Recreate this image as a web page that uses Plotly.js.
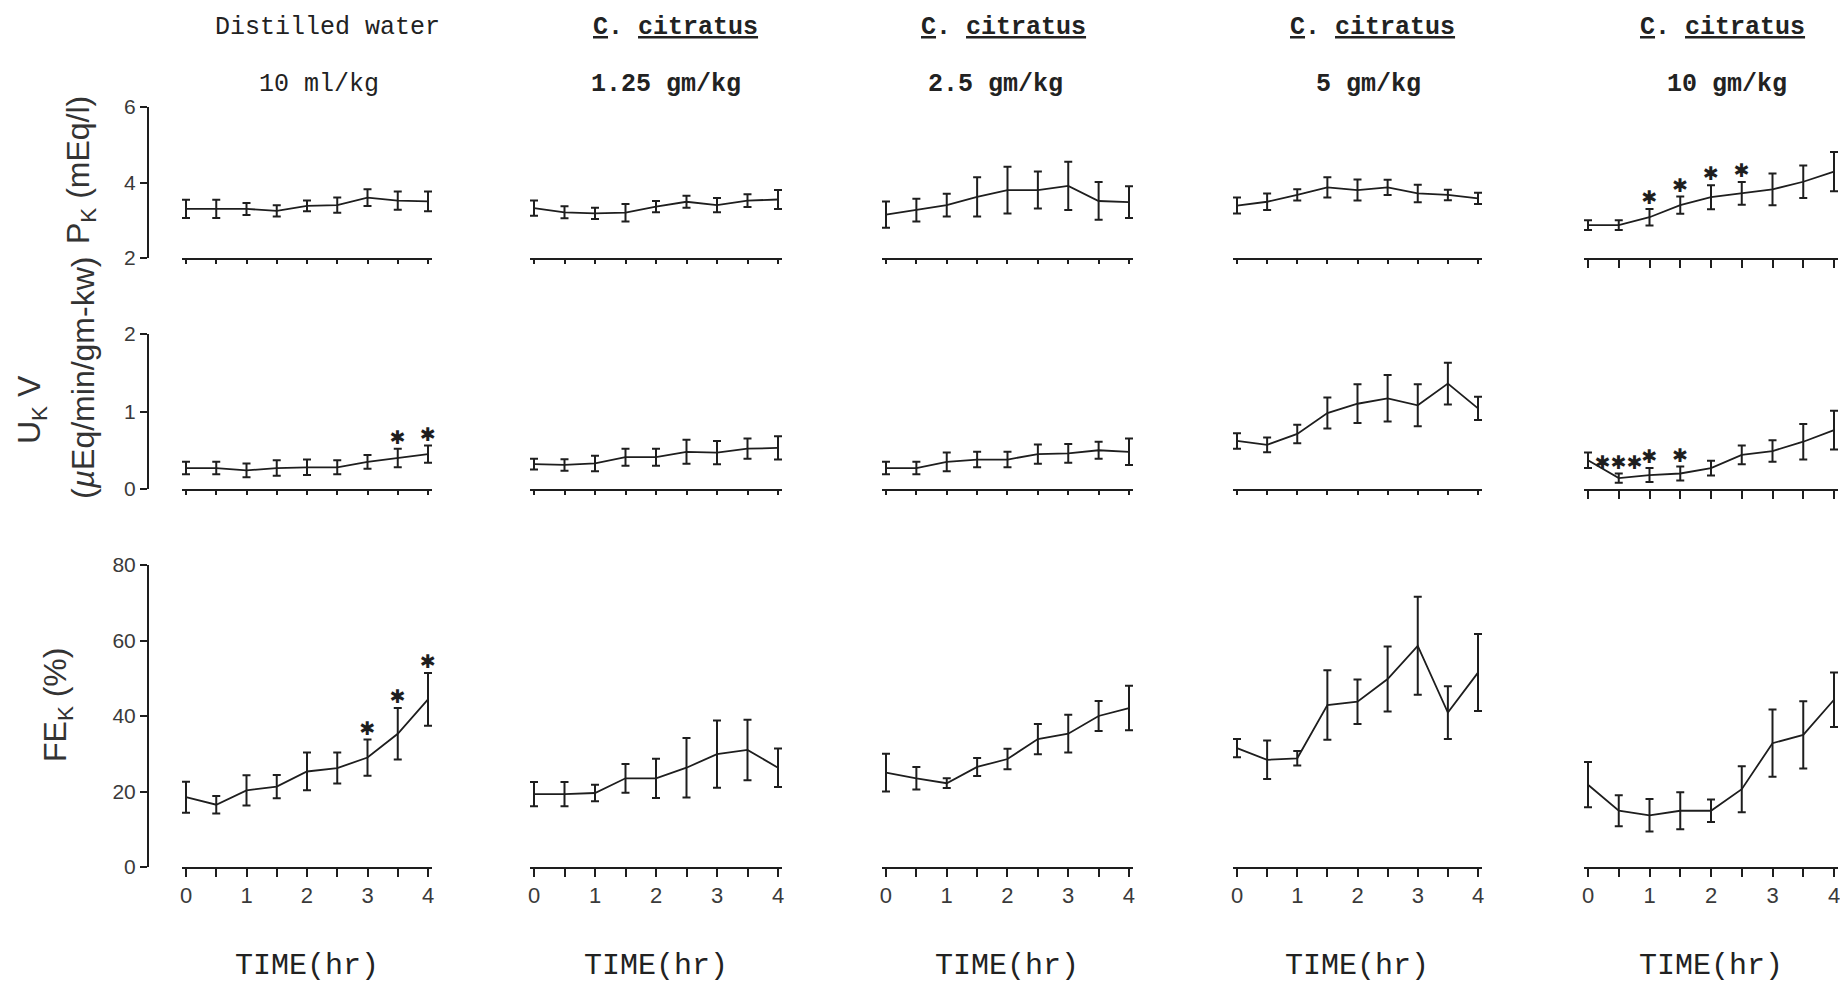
<!DOCTYPE html>
<html>
<head>
<meta charset="utf-8">
<script src="https://cdn.plot.ly/plotly-3.0.1.min.js"></script>
<style>html,body{margin:0;padding:0;background:#fff;}#chart{width:1840px;height:986px;}</style>
</head>
<body>
<div id="chart"></div>
<script>
// ---------------- data ----------------
const timeHr = [0, 0.5, 1, 1.5, 2, 2.5, 3, 3.5, 4];
const xTickVals = [0, 1, 2, 3, 4];
const xTickText = ['0', '1', '2', '3', '4'];
const groupNames = ['Distilled water', '<u>C</u>. <u>citratus</u>', '<u>C</u>. <u>citratus</u>', '<u>C</u>. <u>citratus</u>', '<u>C</u>. <u>citratus</u>'];
const doseLabels = ['10 ml/kg', '1.25 gm/kg', '2.5 gm/kg', '5 gm/kg', '10 gm/kg'];

// Plasma K (mEq/l), mean and SEM
const pkWater = [3.30, 3.30, 3.30, 3.25, 3.38, 3.40, 3.60, 3.52, 3.50];
const pkWaterErr = [0.24, 0.24, 0.16, 0.15, 0.14, 0.20, 0.22, 0.24, 0.26];
const pk125 = [3.32, 3.21, 3.18, 3.20, 3.36, 3.49, 3.40, 3.52, 3.55];
const pk125Err = [0.20, 0.16, 0.15, 0.23, 0.15, 0.16, 0.19, 0.17, 0.25];
const pk25 = [3.15, 3.27, 3.40, 3.62, 3.80, 3.80, 3.91, 3.51, 3.48];
const pk25Err = [0.35, 0.30, 0.30, 0.52, 0.62, 0.49, 0.64, 0.50, 0.42];
const pk5 = [3.39, 3.49, 3.67, 3.87, 3.80, 3.87, 3.71, 3.67, 3.58];
const pk5Err = [0.21, 0.22, 0.15, 0.27, 0.28, 0.20, 0.23, 0.14, 0.15];
const pk10 = [2.87, 2.87, 3.08, 3.40, 3.61, 3.71, 3.82, 4.02, 4.29];
const pk10Err = [0.13, 0.13, 0.22, 0.23, 0.32, 0.30, 0.42, 0.43, 0.52];

// Urinary K excretion (µEq/min/gm-kw)
const ukWater = [0.27, 0.27, 0.24, 0.27, 0.28, 0.28, 0.35, 0.40, 0.45];
const ukWaterErr = [0.08, 0.08, 0.09, 0.10, 0.10, 0.09, 0.09, 0.12, 0.11];
const uk125 = [0.32, 0.31, 0.33, 0.41, 0.41, 0.48, 0.47, 0.52, 0.53];
const uk125Err = [0.07, 0.075, 0.10, 0.11, 0.11, 0.155, 0.15, 0.13, 0.15];
const uk25 = [0.27, 0.27, 0.35, 0.38, 0.38, 0.45, 0.46, 0.50, 0.48];
const uk25Err = [0.08, 0.08, 0.12, 0.10, 0.10, 0.125, 0.12, 0.11, 0.17];
const uk5 = [0.62, 0.57, 0.71, 0.98, 1.10, 1.17, 1.08, 1.36, 1.04];
const uk5Err = [0.10, 0.095, 0.12, 0.20, 0.25, 0.30, 0.27, 0.27, 0.15];
const uk10 = [0.37, 0.14, 0.18, 0.20, 0.27, 0.44, 0.49, 0.61, 0.76];
const uk10Err = [0.10, 0.06, 0.09, 0.09, 0.095, 0.12, 0.14, 0.23, 0.25];

// Fractional excretion of K (%)
const feWater = [18.5, 16.5, 20.3, 21.3, 25.3, 26.2, 29.0, 35.3, 44.4];
const feWaterErr = [4.1, 2.3, 4.0, 3.1, 5.0, 4.1, 4.8, 6.8, 7.0];
const fe125 = [19.3, 19.3, 19.6, 23.5, 23.5, 26.3, 29.9, 31.0, 26.3];
const fe125Err = [3.2, 3.2, 2.2, 3.8, 5.2, 7.9, 8.9, 8.0, 5.1];
const fe25 = [25.0, 23.5, 22.2, 26.5, 28.6, 33.9, 35.3, 40.0, 42.1];
const fe25Err = [5.0, 3.0, 1.3, 2.4, 2.7, 4.0, 5.0, 4.0, 5.9];
const fe5 = [31.5, 28.4, 28.8, 42.9, 43.8, 49.8, 58.6, 40.9, 51.5];
const fe5Err = [2.4, 5.1, 1.9, 9.2, 5.9, 8.6, 13.0, 7.0, 10.2];
const fe10 = [21.8, 14.9, 13.7, 14.9, 14.9, 20.6, 32.8, 35.0, 44.3];
const fe10Err = [6.0, 4.1, 4.3, 4.9, 3.0, 6.1, 8.9, 8.9, 7.2];

// significance marks: [row, column, time, label]
const sigRow = [1, 1, 2, 2, 2, 0, 0, 0, 0, 1, 1, 1];
const sigCol = [0, 0, 0, 0, 0, 4, 4, 4, 4, 4, 4, 4];
const sigTime = [3.5, 4, 3, 3.5, 4, 1, 1.5, 2, 2.5, 0.5, 1, 1.5];
const sigLabel = ['✱', '✱', '✱', '✱', '✱', '✱', '✱', '✱', '✱', '✱✱✱', '✱', '✱'];

// ---------------- layout helpers ----------------
const W = 1840, H = 986;
const colX0 = [186, 534, 886, 1237, 1588];
const colX4 = [428, 778, 1129, 1478, 1834];
const pad = 0.07; // keeps the end error-bar caps inside the plot area
const rowDefs = [
  {bottom: 258, top: 107, range: [2, 6], tick: [2, 4, 6]},
  {bottom: 489, top: 334, range: [0, 2], tick: [0, 1, 2]},
  {bottom: 867, top: 565, range: [0, 80], tick: [0, 20, 40, 60, 80]}
];
const means = [[pkWater, pk125, pk25, pk5, pk10], [ukWater, uk125, uk25, uk5, uk10], [feWater, fe125, fe25, fe5, fe10]];
const errs = [[pkWaterErr, pk125Err, pk25Err, pk5Err, pk10Err], [ukWaterErr, uk125Err, uk25Err, uk5Err, uk10Err], [feWaterErr, fe125Err, fe25Err, fe5Err, fe10Err]];

const px = x => x / W;
const py = y => 1 - y / H;
const ink = '#1e1e1e';

const traces = [];
const layout = {
  width: W, height: H, autosize: false,
  margin: {l: 0, r: 0, t: 0, b: 0},
  paper_bgcolor: '#ffffff', plot_bgcolor: 'rgba(0,0,0,0)',
  showlegend: false,
  annotations: []
};

for (let r = 0; r < 3; r++) {
  for (let c = 0; c < 5; c++) {
    const i = r * 5 + c + 1;
    const xa = 'xaxis' + (i === 1 ? '' : i), ya = 'yaxis' + (i === 1 ? '' : i);
    const xr = 'x' + (i === 1 ? '' : i), yr = 'y' + (i === 1 ? '' : i);
    const rd = rowDefs[r];
    const unit = (colX4[c] - colX0[c]) / 4;
    const tl = r === 2 ? 8 : (c === 4 ? 8 : 4);
    layout[xa] = {
      domain: [px(colX0[c] - pad * unit), px(colX4[c] + pad * unit)], range: [-pad, 4 + pad], anchor: yr,
      showline: true, linecolor: ink, linewidth: 2,
      ticks: 'outside', ticklen: tl, tickwidth: 2, tickcolor: ink,
      tickvals: xTickVals, ticktext: xTickText,
      minor: {tickvals: timeHr, ticks: 'outside', ticklen: tl, tickwidth: 2, tickcolor: ink, showgrid: false},
      showticklabels: r === 2, ticklabeloverflow: 'allow',
      tickfont: {family: 'Liberation Sans, Arial, sans-serif', size: 22, color: '#3a3a3a'},
      showgrid: false, zeroline: false, fixedrange: true
    };
    if (c === 0) {
      layout[ya] = {
        domain: [py(rd.bottom), py(rd.top)], range: rd.range, anchor: 'free', position: px(148),
        showline: true, linecolor: ink, linewidth: 2,
        ticks: 'outside', ticklen: 7, tickwidth: 2, tickcolor: ink,
        tickvals: rd.tick,
        tickfont: {family: 'Liberation Sans, Arial, sans-serif', size: 21, color: '#3a3a3a'},
        showgrid: false, zeroline: false, fixedrange: true
      };
    } else {
      layout[ya] = {domain: [py(rd.bottom), py(rd.top)], range: rd.range, anchor: xr, visible: false, fixedrange: true};
    }
    traces.push({
      type: 'scatter', mode: 'lines', x: timeHr, y: means[r][c], xaxis: xr, yaxis: yr,
      line: {color: ink, width: 1.8}, cliponaxis: false,
      error_y: {type: 'data', array: errs[r][c], visible: true, color: ink, thickness: 2, width: 4},
      hoverinfo: 'skip'
    });
  }
}

// significance stars, placed on top of each error bar
for (let k = 0; k < sigTime.length; k++) {
  const r = sigRow[k], c = sigCol[k];
  const i = r * 5 + c + 1;
  const idx = timeHr.indexOf(sigTime[k]);
  const yTop = means[r][c][idx] + errs[r][c][idx];
  traces.push({
    type: 'scatter', mode: 'text', x: [sigTime[k]], y: [yTop],
    xaxis: 'x' + (i === 1 ? '' : i), yaxis: 'y' + (i === 1 ? '' : i),
    text: [sigLabel[k]], textposition: 'top center', cliponaxis: false,
    textfont: {family: 'DejaVu Sans, sans-serif', size: 19, color: ink},
    hoverinfo: 'skip'
  });
}

// column headings
const headX = [327, 675, 1003, 1372, 1722];
const doseX = [319, 666, 995, 1368, 1727];
const timeX = [307, 656, 1007, 1357, 1711];
for (let c = 0; c < 5; c++) {
  const wt = c === 0 ? '' : '<b>';
  const wtc = c === 0 ? '' : '</b>';
  layout.annotations.push({
    xref: 'paper', yref: 'paper', x: px(headX[c]), y: py(27), xanchor: 'center', yanchor: 'middle',
    text: wt + groupNames[c] + wtc, showarrow: false,
    font: {family: 'Liberation Mono, Courier New, monospace', size: 25, color: '#222'}
  });
  layout.annotations.push({
    xref: 'paper', yref: 'paper', x: px(doseX[c]), y: py(84), xanchor: 'center', yanchor: 'middle',
    text: wt + doseLabels[c] + wtc, showarrow: false,
    font: {family: 'Liberation Mono, Courier New, monospace', size: 25, color: '#222'}
  });
  layout.annotations.push({
    xref: 'paper', yref: 'paper', x: px(timeX[c]), y: py(966), xanchor: 'center', yanchor: 'middle',
    text: 'TIME(hr)', showarrow: false,
    font: {family: 'Liberation Mono, Courier New, monospace', size: 30, color: '#222'}
  });
}

// y-axis titles
const sansTitle = {family: 'Liberation Sans, Arial, sans-serif', size: 32, color: '#333'};
layout.annotations.push(
  {xref: 'paper', yref: 'paper', x: px(80), y: py(170), xanchor: 'center', yanchor: 'middle', textangle: -90,
   text: 'P<sub>K</sub> (mEq/l)', showarrow: false, font: sansTitle},
  {xref: 'paper', yref: 'paper', x: px(31), y: py(410), xanchor: 'center', yanchor: 'middle', textangle: -90,
   text: 'U<sub>K</sub> V', showarrow: false, font: sansTitle},
  {xref: 'paper', yref: 'paper', x: px(83), y: py(378), xanchor: 'center', yanchor: 'middle', textangle: -90,
   text: '(<i>µ</i>Eq/min/gm-kw)', showarrow: false, font: sansTitle},
  {xref: 'paper', yref: 'paper', x: px(57), y: py(705), xanchor: 'center', yanchor: 'middle', textangle: -90,
   text: 'FE<sub>K</sub> (%)', showarrow: false, font: sansTitle}
);

Plotly.newPlot('chart', traces, layout, {staticPlot: true, displayModeBar: false});
</script>
</body>
</html>
